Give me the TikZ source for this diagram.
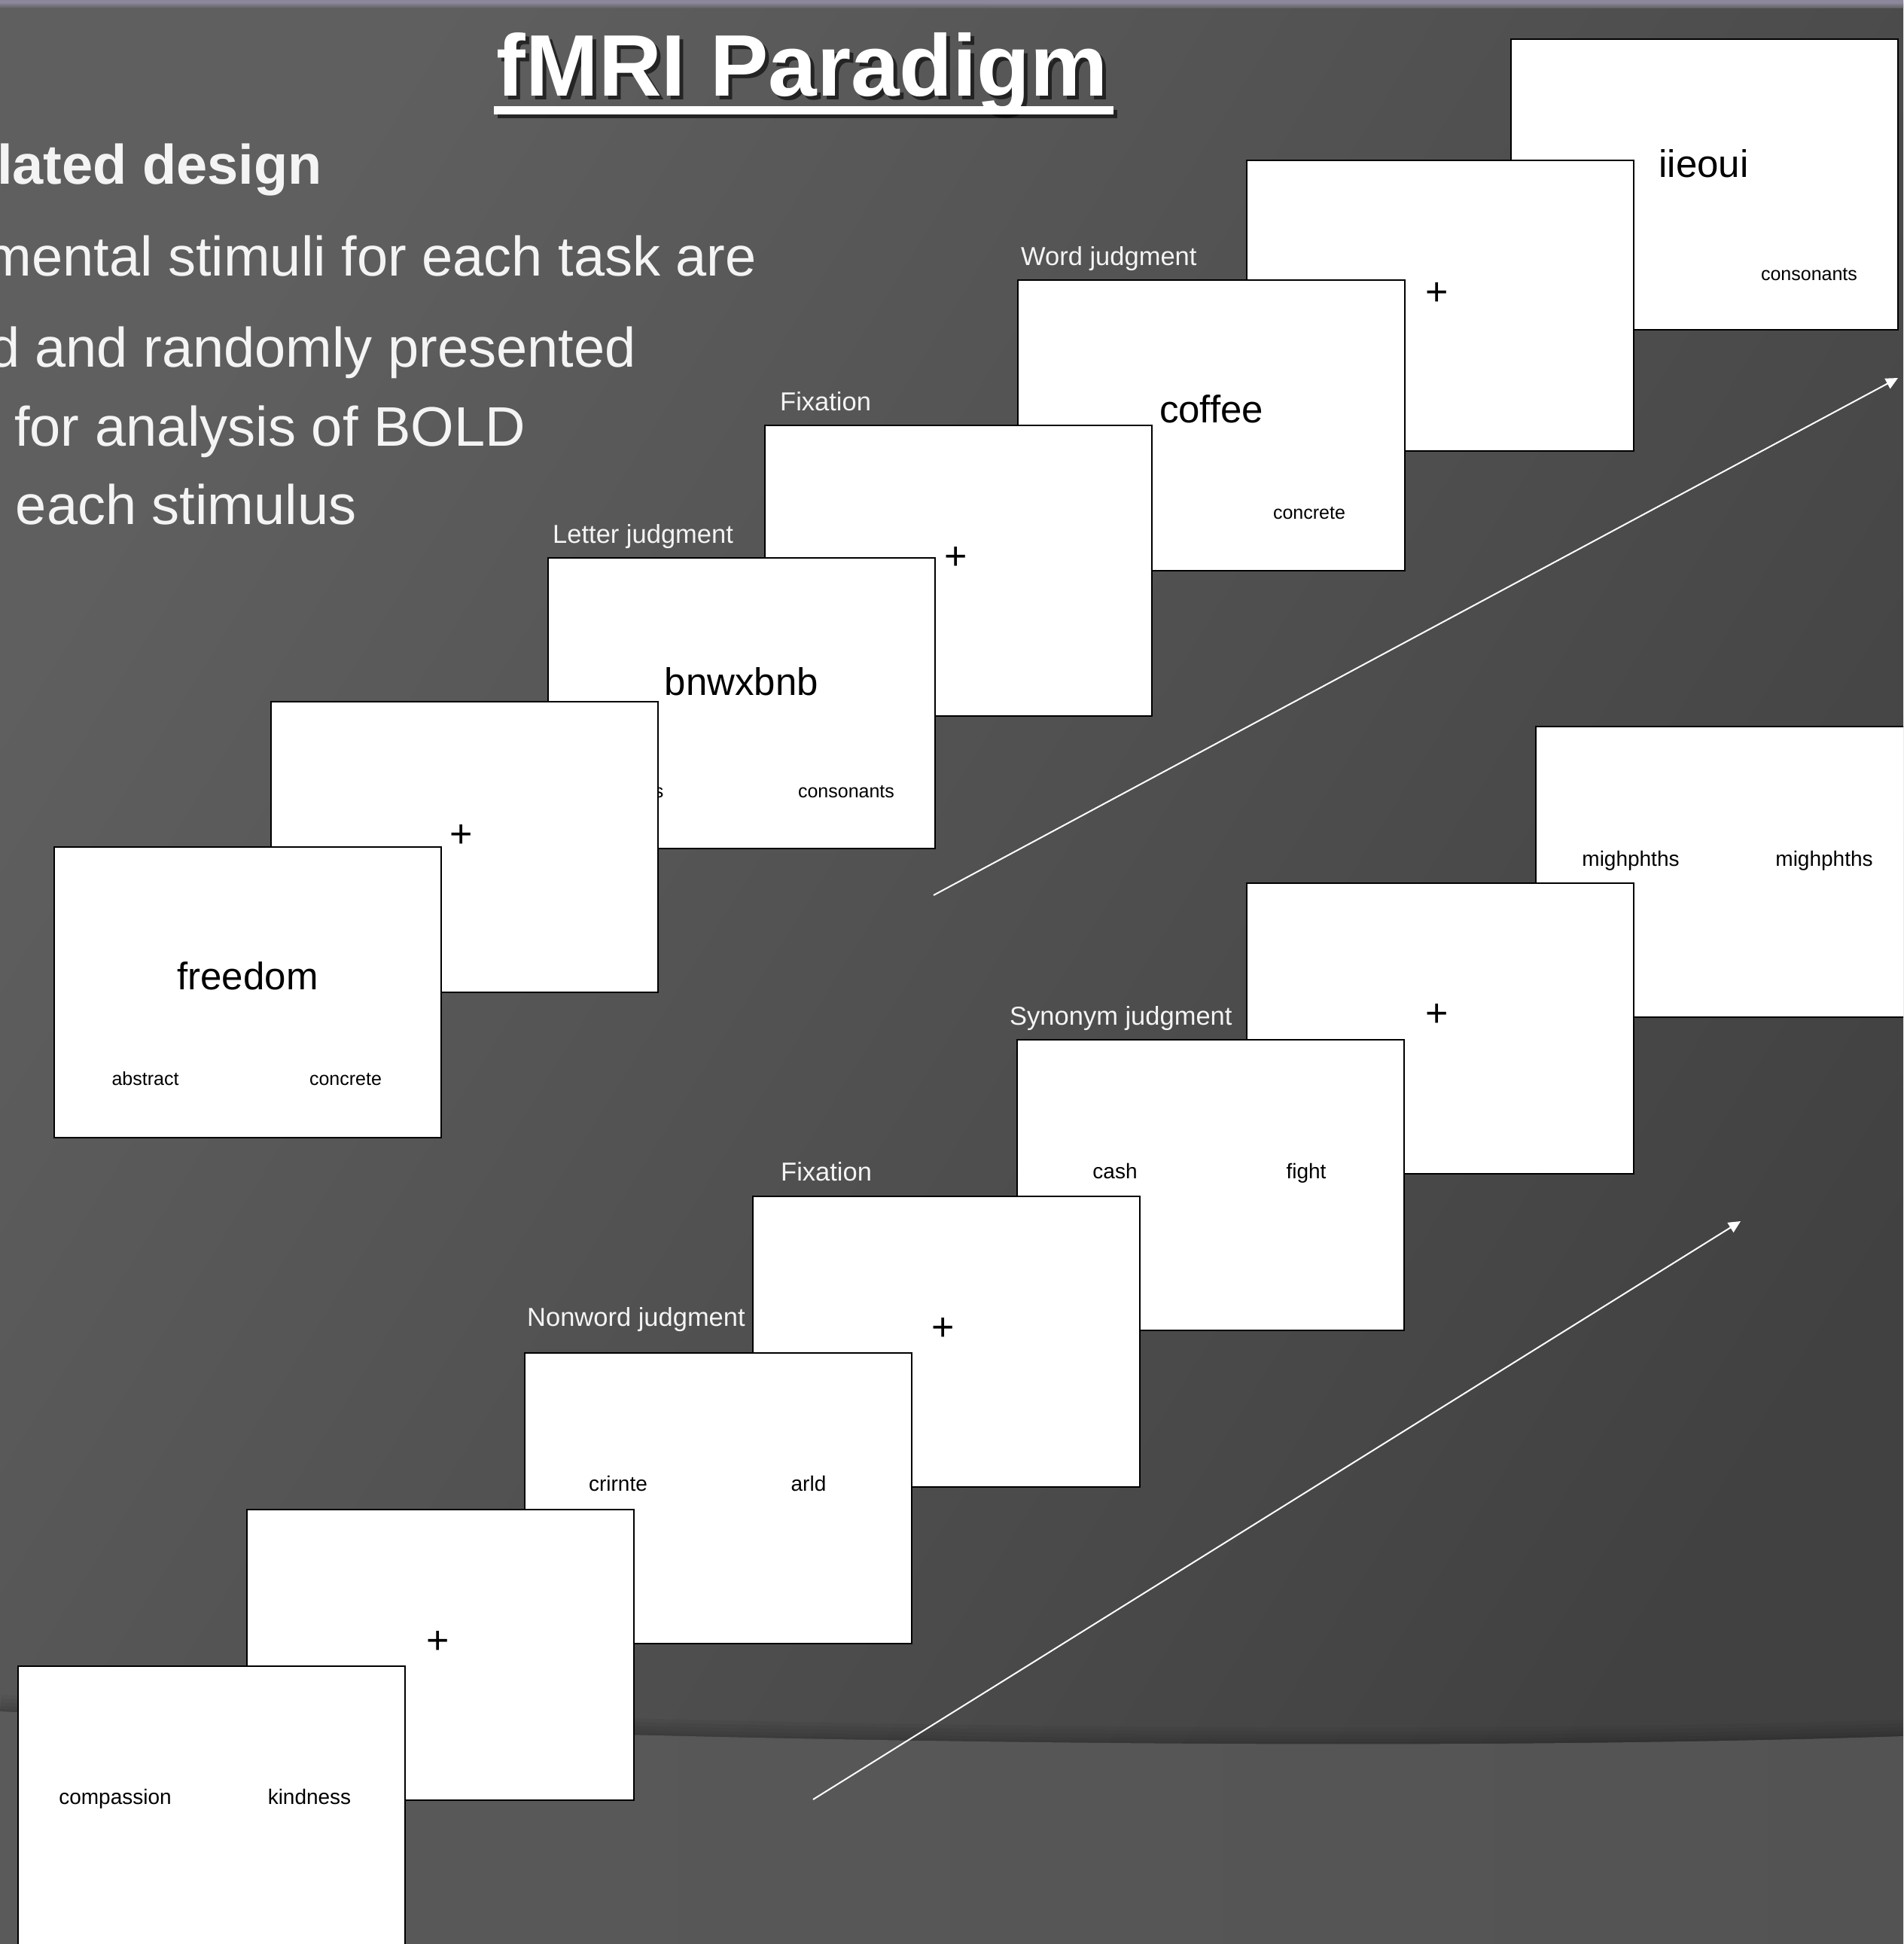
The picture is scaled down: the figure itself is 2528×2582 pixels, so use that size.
\documentclass[tikz,border=0pt]{standalone}
\usepackage{fontspec}
\setmainfont{Liberation Sans}
\usetikzlibrary{arrows.meta,calc}
\definecolor{bgtop}{HTML}{5F5F5F}
\definecolor{bgbot}{HTML}{414141}
\definecolor{bandL}{HTML}{5A5A5A}
\definecolor{bandR}{HTML}{535353}
\definecolor{strip}{HTML}{8C879B}
\definecolor{txtwhite}{HTML}{F4F4F4}
\begin{document}
\begin{tikzpicture}[x=1pt,y=-1pt,
  stim/.style={draw=black, line width=2.5pt, fill=white, minimum width=514pt, minimum height=386pt, inner sep=0pt, outer sep=0pt, anchor=north west},
  lbl/.style={text=txtwhite, font=\fontsize{34.5}{40}\selectfont, anchor=base west, inner sep=0pt},
  bigword/.style={text=black, font=\fontsize{51}{60}\selectfont, anchor=base, inner sep=0pt},
  smallword/.style={text=black, font=\fontsize{25}{30}\selectfont, anchor=base, inner sep=0pt},
  pairword/.style={text=black, font=\fontsize{28}{33}\selectfont, anchor=base, inner sep=0pt},
  fixcross/.style={text=black, font=\fontsize{52}{60}\selectfont, inner sep=0pt},
  bullettext/.style={text=txtwhite, font=\fontsize{74}{88}\selectfont, anchor=base east, inner sep=0pt},
  titletext/.style={text=white, font=\bfseries\fontsize{116}{139}\selectfont, anchor=base, inner sep=0pt},
  timearrow/.style={draw=white, line width=2pt, -{Triangle[length=16pt,width=15pt]}}
]
\useasboundingbox (0,0) rectangle (2528,2582);
\clip (0,0) rectangle (2528,2582);

% background
\shade[top color=bgtop, bottom color=bgbot, shading angle=58] (0,0) rectangle (2528,2582);
% top strip
\fill[strip] (0,0) rectangle (2528,3.5);
\shade[top color=strip, bottom color=bgtop] (0,3.5) rectangle (2528,11);
% shadow above the lower band
\foreach \w in {44,34,24,14,6} {
  \draw[black, opacity=0.045, line width=\w pt] (0,2273) .. controls (700,2310) and (1800,2330) .. (2528,2306);
}
% lower band
\shade[left color=bandL, right color=bandR] (0,2273) .. controls (700,2310) and (1800,2330) .. (2528,2306) -- (2528,2582) -- (0,2582) -- cycle;

% title
\node[titletext, text=black, opacity=0.6] (Tsh) at (1071,133) {fMRI Paradigm};
\fill[black, opacity=0.6] ($(Tsh.base west)+(-4,13)$) rectangle ($(Tsh.base east)+(7,24)$);
\node[titletext] (T) at (1066,128) {fMRI Paradigm};
\fill[white] ($(T.base west)+(-4,13)$) rectangle ($(T.base east)+(7,24)$);

% bullet text (cut at the left edge, as in the reference)
\node[bullettext, font=\bfseries\fontsize{74}{88}\selectfont] (b1) at (428,245) {lated design};
\node[bullettext] (b2) at (1005,366) {mental stimuli for each task are};
\node[bullettext] (b3) at (845,487) {d and randomly presented};
\node[bullettext] (b4) at (698,592) {for analysis of BOLD};
\node[bullettext] (b5) at (473.5,696) {each stimulus};

% ---------- upper sequence (back to front) ----------
\node[stim] (G) at (2007,52) {};
\node[bigword] (tG) at ($(G.north west)+(256,184)$) {iieoui};
\node[smallword] (sG) at ($(G.north west)+(396,320)$) {consonants};

\node[stim] (F) at (1656,213) {};
\node[fixcross] (pF) at ($(F.north west)+(253,177)$) {+};

\node[stim] (E) at (1352,372) {};
\node[bigword] (tE) at ($(E.north west)+(257,189)$) {coffee};
\node[smallword] (sE) at ($(E.north west)+(387,317)$) {concrete};

\node[stim] (D) at (1016,565) {};
\node[fixcross] (pD) at ($(D.north west)+(254,176)$) {+};

\node[stim] (C) at (728,741) {};
\node[bigword] (tC) at ($(C.north west)+(257,182)$) {bnwxbnb};
\node[smallword] (sC1) at ($(C.north west)+(147,318)$) {s};
\node[smallword] (sC2) at ($(C.north west)+(396,318)$) {consonants};

\node[stim] (B) at (360,932) {};
\node[fixcross] (pB) at ($(B.north west)+(253,178)$) {+};

\node[stim] (A) at (72,1125) {};
\node[bigword] (tA) at ($(A.north west)+(257,189)$) {freedom};
\node[smallword] (sA1) at ($(A.north west)+(121,316)$) {abstract};
\node[smallword] (sA2) at ($(A.north west)+(387,316)$) {concrete};

% ---------- lower sequence (back to front) ----------
\node[stim] (N) at (2040,965) {};
\node[pairword] (sN1) at ($(N.north west)+(126,185)$) {mighphths};
\node[pairword] (sN2) at ($(N.north west)+(383,185)$) {mighphths};

\node[stim] (M) at (1656,1173) {};
\node[fixcross] (pM) at ($(M.north west)+(253,175)$) {+};

\node[stim] (L) at (1351,1381) {};
\node[pairword] (sL1) at ($(L.north west)+(130,184)$) {cash};
\node[pairword] (sL2) at ($(L.north west)+(384,184)$) {fight};

\node[stim] (K) at (1000,1589) {};
\node[fixcross] (pK) at ($(K.north west)+(253,176)$) {+};

\node[stim] (J) at (697,1797) {};
\node[pairword] (sJ1) at ($(J.north west)+(124,183)$) {crirnte};
\node[pairword] (sJ2) at ($(J.north west)+(377,183)$) {arld};

\node[stim] (I) at (328,2005) {};
\node[fixcross] (pI) at ($(I.north west)+(254,176)$) {+};

\node[stim] (H) at (24,2213) {};
\node[pairword] (sH1) at ($(H.north west)+(129,183)$) {compassion};
\node[pairword] (sH2) at ($(H.north west)+(387,183)$) {kindness};

% ---------- labels ----------
\node[lbl] (lC) at ($(C.north west)+(6,-20)$) {Letter judgment};
\node[lbl] (lD) at ($(D.north west)+(20,-20)$) {Fixation};
\node[lbl] (lE) at ($(E.north west)+(4,-20)$) {Word judgment};
\node[lbl] (lJ) at ($(J.north west)+(3,-36)$) {Nonword judgment};
\node[lbl] (lK) at ($(K.north west)+(37,-21)$) {Fixation};
\node[lbl] (lL) at ($(L.north west)+(-10,-20)$) {Synonym judgment};

% ---------- time arrows ----------
\coordinate (a1s) at (1240,1189);
\coordinate (a1e) at (2521,502);
\coordinate (a2s) at (1080,2390);
\coordinate (a2e) at (2312,1622);
\draw[timearrow] (a1s) -- (a1e);
\draw[timearrow] (a2s) -- (a2e);
\end{tikzpicture}
\end{document}
